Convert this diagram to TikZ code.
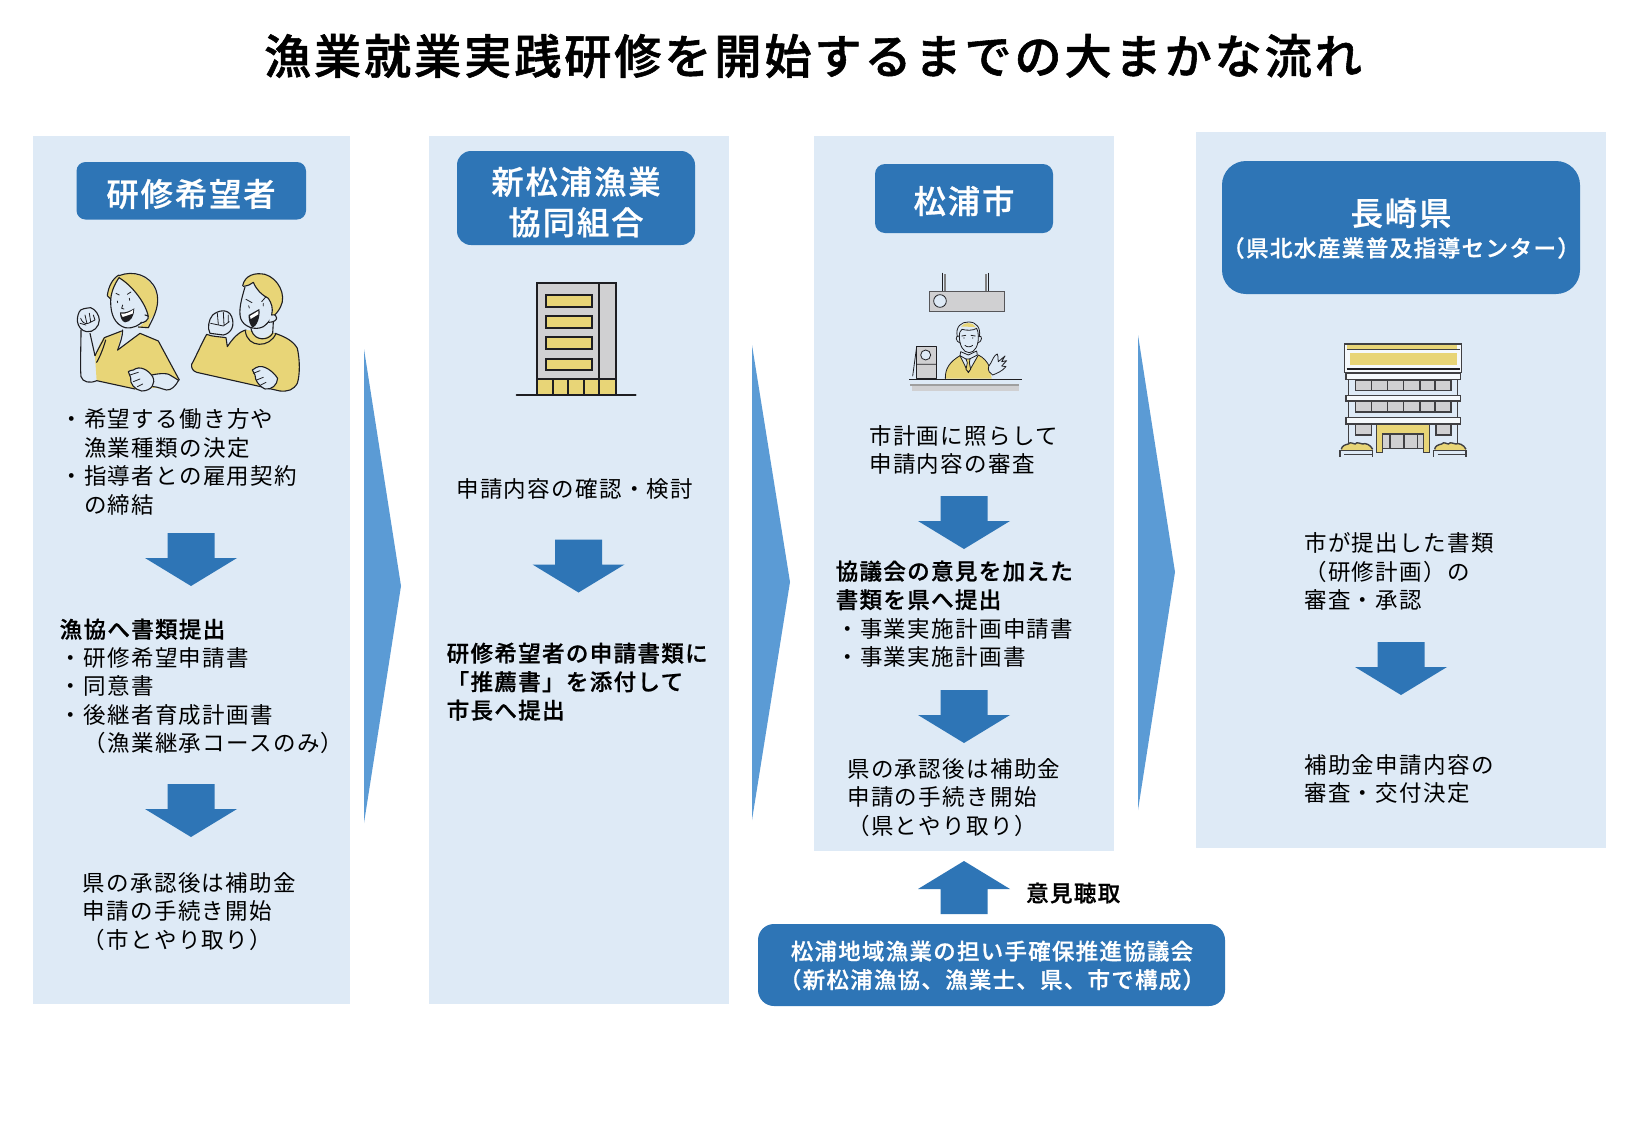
\documentclass[tikz,border=0pt]{standalone}
\usepackage{fontspec}
\newfontfamily\jp[LetterSpace=6]{Noto Sans CJK JP}
\newfontfamily\jpb[LetterSpace=6,FakeBold=0.8]{Noto Sans CJK JP Medium}
\newfontfamily\jph[LetterSpace=6,FakeBold=1.2]{Noto Sans CJK JP Medium}
\definecolor{panelblue}{HTML}{DEEAF6}
\definecolor{headblue}{HTML}{2E75B6}
\definecolor{chevblue}{HTML}{5B9BD5}
\definecolor{ochre}{HTML}{E8D577}
\definecolor{ashgrey}{HTML}{D0D0D2}
\definecolor{inkline}{HTML}{1E1E22}
\tikzset{
  x=1pt,y=-1pt,
  panel/.style={fill=panelblue,draw=none},
  headbox/.style={fill=headblue,draw=none,rounded corners=#1},
  headtext/.style={text=white,align=center,inner sep=0pt,font=\jpb\fontsize{32.3}{40.5}\selectfont},
  subheadtext/.style={text=white,align=center,inner sep=0pt,font=\jpb\fontsize{22.6}{28.5}\selectfont},
  bodytext/.style={anchor=north west,align=left,inner sep=0pt,text=black,font=\jp\fontsize{22.5}{28.5}\selectfont},
  boldtext/.style={anchor=north west,align=left,inner sep=0pt,text=black,font=\jpb\fontsize{22.5}{28.5}\selectfont},
  ink/.style={draw=inkline,line width=1.1pt,line cap=round,line join=round},
  inkfine/.style={draw=inkline,line width=0.8pt,line cap=round,line join=round},
  inkbold/.style={draw=inkline,line width=1.9pt,line join=miter},
  zoomed/.style={x=0.3333pt,y=-0.3333pt},
}
% Block arrow pointing down: centre x, top y
\newcommand{\blockdown}[2]{%
  \fill[headblue] (#1-23.5,#2) -- (#1+23.5,#2) -- (#1+23.5,#2+25) -- (#1+46,#2+25)
    -- (#1,#2+53) -- (#1-46,#2+25) -- (#1-23.5,#2+25) -- cycle;}
\begin{document}
\begin{tikzpicture}
\useasboundingbox (0,0) rectangle (1625,1125);
\fill[white] (0,0) rectangle (1625,1125);

% Title
\node[inner sep=0pt,font=\jph\fontsize{47.2}{50}\selectfont] (title) at (813,56) {漁業就業実践研修を開始するまでの大まかな流れ};

% Column panels
\fill[panel] (32.5,136) rectangle (350,1004);
\fill[panel] (429,136) rectangle (729,1004);
\fill[panel] (814,136) rectangle (1114,851);
\fill[panel] (1196,132) rectangle (1606,847.5);

% Transition wedges
\fill[chevblue] (364,349) -- (401,586) -- (364,823) -- cycle;
\fill[chevblue] (752,345) -- (790,582) -- (752,820) -- cycle;
\fill[chevblue] (1138,335) -- (1175,572) -- (1138,810) -- cycle;

% Header boxes
\fill[headbox=9pt] (76.5,162) rectangle (306,219.5);
\node[headtext] (h1) at (191,194) {研修希望者};
\fill[headbox=14pt] (457,151) rectangle (695,245);
\node[headtext] (h2) at (576,202) {新松浦漁業\\協同組合};
\fill[headbox=10pt] (875,164) rectangle (1053,233);
\node[headtext] (h3) at (964,201) {松浦市};
\fill[headbox=24pt] (1222,161) rectangle (1580,294);
\node[headtext] (h4a) at (1401,213) {長崎県};
\node[subheadtext] (h4b) at (1401,248) {（県北水産業普及指導センター）};

% Column 1 text
\node[bodytext] (a1) at (60,408.5) {・希望する働き方や\\　漁業種類の決定\\・指導者との雇用契約\\　の締結};
\node[boldtext] (a2) at (59.5,618.5) {漁協へ書類提出};
\node[bodytext] (a3) at (59.5,647) {・研修希望申請書\\・同意書\\・後継者育成計画書\\　（漁業継承コースのみ）};
\node[bodytext] (a4) at (82.5,872) {県の承認後は補助金\\申請の手続き開始\\（市とやり取り）};
\blockdown{191}{533}
\blockdown{191}{784}

% Column 2 text
\node[bodytext] (b1) at (456,478.5) {申請内容の確認・検討};
\node[boldtext] (b2) at (446.5,642.5) {研修希望者の申請書類に\\「推薦書」を添付して\\市長へ提出};
\blockdown{578.5}{539.5}

% Column 3 text
\node[bodytext] (c1) at (869,425) {市計画に照らして\\申請内容の審査};
\node[boldtext] (c2) at (835.5,560.5) {協議会の意見を加えた\\書類を県へ提出};
\node[bodytext] (c3) at (836,618) {・事業実施計画申請書\\・事業実施計画書};
\node[bodytext] (c4) at (847,758) {県の承認後は補助金\\申請の手続き開始\\（県とやり取り）};
\blockdown{964}{496}
\blockdown{964}{690}

% Column 4 text
\node[bodytext] (d1) at (1304,532.5) {市が提出した書類\\（研修計画）の\\審査・承認};
\node[bodytext] (d2) at (1304,754) {補助金申請内容の\\審査・交付決定};
\blockdown{1401}{642}

% Council box and upward arrow
\fill[headbox=16pt] (758,924) rectangle (1225,1006);
\node[subheadtext,font=\jpb\fontsize{22.4}{28.5}\selectfont] (council) at (992,965.5) {松浦地域漁業の担い手確保推進協議会\\（新松浦漁協、漁業士、県、市で構成）};
\fill[headblue] (940.5,914) -- (987.5,914) -- (987.5,889) -- (1010,889) -- (964,861) -- (918,889) -- (940.5,889) -- cycle;
\node[inner sep=0pt,anchor=west,font=\jpb\fontsize{22.5}{28.5}\selectfont] (hear) at (1026,893) {意見聴取};

% Woman with raised fist
\begin{scope}[shift={(70,265)},zoomed]
  \path[fill=ochre] (155,198) -- (100,218) .. controls (88,235) and (80,260) .. (75,275) -- (80,347) -- (205,375) -- (255,368) -- (300,376) -- (328,345) -- (265,228) -- (210,205) -- (143,255) -- cycle;
  \draw[ink] (155,198) -- (103,218) .. controls (95,235) and (85,250) .. (75,272);
  \draw[ink] (143,255) -- (210,205) -- (265,228) -- (328,345);
  \draw[ink] (158,195) .. controls (158,215) and (150,235) .. (143,255);
  \draw[ink] (107,225) .. controls (100,250) and (90,275) .. (80,292);
  \draw[ink] (80,347) -- (195,372);
  % raised arm and fist
  \draw[ink] (33,195) .. controls (33,250) and (30,300) .. (33,335) .. controls (38,352) and (60,356) .. (80,347);
  \draw[ink] (60,205) -- (75,272);
  \draw[ink,fill=panelblue] (32,135) .. controls (45,128) and (55,130) .. (62,128) .. controls (75,132) and (88,150) .. (88,165) .. controls (88,185) and (70,203) .. (50,200) .. controls (35,198) and (24,185) .. (22,168) .. controls (22,155) and (25,142) .. (32,135) -- cycle;
  \draw[inkfine] (32,160) .. controls (36,170) and (42,178) .. (55,175) -- (75,165) (45,150) -- (50,172) (58,145) -- (62,170) (70,150) -- (75,165) (30,175) -- (48,180);
  % hair
  \path[fill=ochre] (112,92) .. controls (118,62) and (130,42) .. (147,32) .. controls (185,18) and (235,30) .. (255,75) .. controls (270,105) and (260,145) .. (240,165) -- (237,190) -- (205,188) .. controls (215,180) and (225,170) .. (235,160) .. controls (232,125) and (200,75) .. (147,40) .. controls (135,55) and (128,75) .. (122,105) -- cycle;
  \draw[ink] (147,32) .. controls (190,15) and (240,30) .. (258,75) .. controls (272,115) and (255,150) .. (235,188) -- (205,186);
  \draw[ink] (147,30) .. controls (128,40) and (115,65) .. (112,92) -- (122,102);
  \draw[ink] (147,38) .. controls (185,60) and (228,115) .. (235,155);
  % face
  \draw[ink] (147,38) .. controls (132,60) and (122,85) .. (122,110) .. controls (122,150) and (135,178) .. (165,188) .. controls (190,192) and (210,180) .. (222,165);
  \draw[ink,fill=panelblue] (225,150) .. controls (240,148) and (240,170) .. (212,174);
  \path[fill=inkline] (150,142) .. controls (165,145) and (180,138) .. (193,130) .. controls (193,152) and (182,172) .. (165,172) .. controls (155,170) and (150,155) .. (150,142) -- cycle;
  \path[fill=white] (153,146) .. controls (165,148) and (180,142) .. (190,134) -- (188,146) -- (158,156) -- cycle;
  \draw[inkfine] (138,85) -- (148,90) (172,88) -- (183,81) (142,108) -- (143,113) (178,100) -- (179,106) (158,120) -- (155,130) -- (162,132);
  % lower arm and hand
  \path[fill=panelblue] (245,330) .. controls (270,325) and (295,322) .. (308,335) -- (326,346) .. controls (315,365) and (305,375) .. (290,375) .. controls (275,372) and (262,365) .. (250,365) -- cycle;
  \draw[ink] (245,330) .. controls (270,325) and (295,322) .. (308,335) -- (326,346) .. controls (315,365) and (305,375) .. (290,375) .. controls (275,372) and (262,365) .. (250,365);
  \draw[ink,fill=panelblue] (190,315) .. controls (210,300) and (235,315) .. (248,335) .. controls (258,355) and (245,378) .. (215,378) .. controls (195,375) and (178,355) .. (182,338) -- (175,320) .. controls (180,315) and (185,317) .. (190,315) -- cycle;
  \draw[inkfine] (180,330) -- (205,322) (190,350) -- (210,342) (202,365) -- (218,357);
\end{scope}

% Man with raised fist
\begin{scope}[shift={(190,265)},zoomed]
  \path[fill=ochre] (5,298) .. controls (20,270) and (35,235) .. (50,208) .. controls (65,215) and (90,215) .. (108,218) -- (112,245) .. controls (125,225) and (145,200) .. (168,195) -- (255,205) .. controls (285,215) and (310,228) .. (322,250) .. controls (330,285) and (330,330) .. (322,355) .. controls (310,375) and (295,380) .. (270,378) -- (20,322) .. controls (8,318) and (3,308) .. (5,298) -- cycle;
  \draw[ink] (5,298) .. controls (20,270) and (35,235) .. (50,208) .. controls (65,215) and (90,215) .. (108,218) -- (112,245) .. controls (125,225) and (145,200) .. (168,195);
  \draw[ink] (255,205) .. controls (285,215) and (310,228) .. (322,250) .. controls (330,285) and (330,330) .. (322,355) .. controls (310,375) and (295,380) .. (270,378) -- (20,322) .. controls (8,318) and (3,308) .. (5,298);
  % collar band and neck
  \draw[ink] (166,198) .. controls (172,250) and (240,250) .. (258,205);
  \path[fill=panelblue] (185,190) .. controls (190,228) and (235,228) .. (250,195) -- cycle;
  \draw[ink] (185,198) .. controls (195,228) and (235,228) .. (248,205);
  \draw[ink] (185,198) -- (183,190) (248,205) -- (250,172);
  % fist
  \draw[ink,fill=panelblue] (68,150) .. controls (85,135) and (115,130) .. (125,155) .. controls (135,180) and (125,205) .. (100,210) -- (60,205) .. controls (52,190) and (55,165) .. (68,150) -- cycle;
  \draw[inkfine] (62,175) -- (100,183) -- (118,170) (82,145) -- (85,178) (100,142) -- (102,180) (115,150) -- (115,172);
  % hair
  \path[fill=ochre] (158,62) .. controls (165,30) and (195,22) .. (225,28) .. controls (265,40) and (290,90) .. (272,125) .. controls (265,140) and (255,150) .. (245,158) .. controls (250,130) and (245,115) .. (235,100) .. controls (215,90) and (200,75) .. (190,52) .. controls (180,60) and (170,62) .. (158,62) -- cycle;
  \draw[ink] (158,62) .. controls (165,30) and (195,22) .. (225,28) .. controls (265,40) and (290,90) .. (272,125) .. controls (265,140) and (255,150) .. (245,158);
  \draw[ink] (160,64) .. controls (172,62) and (182,60) .. (190,52) .. controls (200,75) and (215,90) .. (235,100) .. controls (245,115) and (250,130) .. (245,150);
  % face
  \draw[ink] (165,66) .. controls (155,100) and (145,135) .. (152,160) .. controls (160,185) and (195,198) .. (220,185) .. controls (230,178) and (236,170) .. (240,165);
  \draw[ink,fill=panelblue] (245,150) .. controls (265,145) and (268,172) .. (236,172);
  \path[fill=inkline] (176,150) -- (208,132) .. controls (212,155) and (200,185) .. (188,188) .. controls (180,182) and (175,165) .. (176,150) -- cycle;
  \path[fill=white] (180,153) -- (205,138) -- (205,148) -- (182,162) -- cycle;
  \draw[inkfine] (168,103) -- (186,113) (215,110) -- (228,95) (176,122) -- (178,129) (220,115) -- (220,123);
  % lower fist
  \draw[ink,fill=panelblue] (198,308) .. controls (220,295) and (250,320) .. (263,340) .. controls (262,360) and (245,375) .. (225,372) .. controls (205,362) and (195,345) .. (195,330) -- (187,315) .. controls (190,310) and (194,310) .. (198,308) -- cycle;
  \draw[inkfine] (190,325) -- (210,317) (200,345) -- (220,337) (212,360) -- (228,352);
\end{scope}

% Fishery cooperative building
\begin{scope}[shift={(440,130)},zoomed]
  \draw[inkbold,fill=ashgrey] (290,458) rectangle (527,748);
  \draw[inkbold,fill=ochre] (290,748) rectangle (527,795);
  \draw[inkbold] (478,458) -- (478,795) (338,748) -- (338,795) (384,748) -- (384,795) (432,748) -- (432,795);
  \foreach \wy/\wz in {495/530,558/593,622/657,687/720}
    \draw[inkbold,fill=ochre] (317,\wy) rectangle (456,\wz);
  \draw[inkbold,line cap=round] (230,796) -- (587,796);
\end{scope}

% City office sign and counter with clerk
\begin{scope}[shift={(850,250)},zoomed]
  \draw[ink,draw=inkline] (278,70) -- (278,125) (415,70) -- (415,125);
  \draw[line width=1.1pt,draw=gray] (285,72) -- (285,125) (408,72) -- (408,125);
  \draw[line width=1.4pt,draw=inkline!75,fill=ashgrey] (238,125) rectangle (463,184);
  \draw[inkfine,fill=panelblue] (270,153) circle[radius=19];
\end{scope}
\begin{scope}[shift={(900,310)},zoomed]
  % torso and tie
  \path[fill=ochre] (136,206) .. controls (135,175) and (150,155) .. (180,137) -- (205,188) -- (235,135) .. controls (255,145) and (268,160) .. (275,206) -- cycle;
  \draw[inkfine] (136,206) .. controls (135,175) and (150,155) .. (180,137) -- (205,188) -- (235,135) .. controls (250,142) and (262,155) .. (268,170);
  \draw[inkfine,fill=panelblue] (182,125) -- (180,137) -- (203,150) -- (232,135) -- (230,123) -- (205,135) -- cycle;
  \draw[inkfine,fill=ochre] (198,147) -- (210,147) -- (208,158) -- (212,178) -- (205,186) -- (198,178) -- (202,158) -- cycle;
  % head
  \draw[inkfine,fill=panelblue] (178,78) .. controls (165,75) and (165,95) .. (182,100) (236,78) .. controls (248,75) and (248,95) .. (232,100);
  \path[fill=ochre] (183,50) .. controls (190,35) and (220,35) .. (228,52) .. controls (215,50) and (195,50) .. (183,50) -- cycle;
  \draw[inkfine] (172,80) .. controls (165,50) and (185,35) .. (205,36) .. controls (230,35) and (243,55) .. (238,80);
  \draw[inkfine] (178,80) .. controls (178,68) and (180,62) .. (186,58) .. controls (200,62) and (220,62) .. (230,55) .. controls (234,62) and (235,70) .. (235,80);
  \draw[inkfine] (178,80) .. controls (178,105) and (190,128) .. (207,128) .. controls (225,128) and (236,105) .. (235,80);
  \draw[inkfine] (185,78) -- (197,76) (213,76) -- (226,78) (195,106) .. controls (200,112) and (212,112) .. (218,106);
  \fill[inkline] (192,84) circle[radius=2] (218,84) circle[radius=2];
  % waving hand
  \draw[inkfine,fill=panelblue] (275,192) .. controls (262,185) and (262,170) .. (272,160) .. controls (278,150) and (282,135) .. (292,132) .. controls (296,142) and (292,150) .. (295,155) -- (315,138) -- (305,155) -- (320,152) -- (305,168) -- (318,170) .. controls (305,185) and (290,190) .. (278,195) -- cycle;
  % desk sign
  \draw[inkfine,fill=ashgrey] (50,110) rectangle (108,205);
  \draw[inkfine] (50,110) -- (38,198) (50,163) -- (108,163);
  \draw[inkfine,fill=panelblue] (77,135) circle[radius=15];
  % counter
  \draw[line width=1pt,draw=inkline] (28,208) -- (367,208);
  \fill[ashgrey] (36,228) rectangle (357,242);
  \fill[gray!75] (30,222) rectangle (357,228);
\end{scope}

% Prefectural office building
\begin{scope}[shift={(1300,320)},zoomed]
  \tikzset{bld/.style={draw=inkline!85,line width=1.4pt}}
  \draw[bld,fill=white!70!panelblue] (133,72) rectangle (485,157);
  \fill[ochre] (140,75) rectangle (472,88);
  \fill[ochre] (150,100) rectangle (470,135);
  \draw[bld] (140,88) -- (480,88);
  \draw[inkbold] (140,147) -- (480,147);
  \draw[bld] (145,178) -- (145,370) (473,178) -- (473,370);
  \foreach \ya/\yb in {160/178,227/243,293/312}
    \draw[bld,fill=white!70!panelblue] (138,\ya) rectangle (481,\yb);
  \foreach \ya/\yb in {180/212,245/276}{
    \draw[bld,fill=ashgrey] (167,\ya) rectangle (453,\yb);
    \draw[bld] (214,\ya) -- (214,\yb) (263,\ya) -- (263,\yb) (311,\ya) -- (311,\yb) (360,\ya) -- (360,\yb) (405,\ya) -- (405,\yb);
  }
  \draw[bld,fill=ashgrey] (166,313) rectangle (214,345);
  \draw[bld,fill=ashgrey] (408,313) rectangle (453,345);
  \draw[bld,fill=ochre] (230,313) -- (388,313) -- (388,398) -- (370,398) -- (370,342) -- (248,342) -- (248,398) -- (230,398) -- cycle;
  \draw[bld,fill=ashgrey] (248,342) rectangle (370,385);
  \draw[bld] (270,342) -- (270,385) (312,342) -- (312,385) (352,342) -- (352,385);
  \foreach \px in {0,280}{
    \path[fill=ochre] (\px+124,390) .. controls (\px+125,378) and (\px+135,374) .. (\px+145,372) .. controls (\px+152,364) and (\px+158,372) .. (\px+165,372) .. controls (\px+172,364) and (\px+180,372) .. (\px+188,372) .. controls (\px+195,368) and (\px+212,374) .. (\px+218,390) -- cycle;
    \draw[bld] (\px+124,388) .. controls (\px+125,378) and (\px+135,374) .. (\px+145,372) .. controls (\px+152,364) and (\px+158,372) .. (\px+165,372) .. controls (\px+172,364) and (\px+180,372) .. (\px+188,372) .. controls (\px+195,368) and (\px+212,374) .. (\px+218,388);
    \draw[bld] (\px+120,410) -- (\px+120,392) -- (\px+218,392) -- (\px+218,410);
    \draw[bld] (\px+133,403) -- (\px+218,403);
  }
\end{scope}
\end{tikzpicture}
\end{document}
